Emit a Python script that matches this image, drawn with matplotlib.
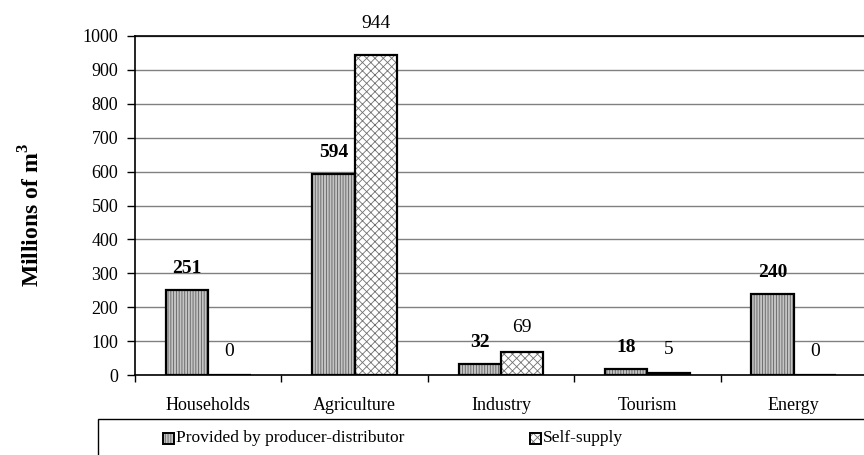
import matplotlib
matplotlib.use("Agg")
import matplotlib.pyplot as plt
from matplotlib.patches import Rectangle
import numpy as np

categories = ["Households", "Agriculture", "Industry", "Tourism", "Energy"]
provided = [251, 594, 32, 18, 240]
self_supply = [0, 944, 69, 5, 0]
series_names = ["Provided by producer-distributor", "Self-supply"]
yticks = [0, 100, 200, 300, 400, 500, 600, 700, 800, 900, 1000]

plt.rcParams['font.family'] = ['Liberation Serif', 'DejaVu Serif']
plt.rcParams['mathtext.fontset'] = 'custom'
plt.rcParams['mathtext.rm'] = 'Liberation Serif'
plt.rcParams['mathtext.bf'] = 'Liberation Serif:bold'
plt.rcParams['hatch.linewidth'] = 0.6

W, H = 864, 455
fig = plt.figure(figsize=(W / 100, H / 100), dpi=100)
left, right, top, bottom = 135, 867, 36, 375
ax = fig.add_axes([left / W, 1 - bottom / H, (right - left) / W, (bottom - top) / H])

x = np.arange(len(categories))
bw = 0.29
c1 = '#c4c4c4'
c2 = 'white'
h1, hc1 = '||||||', '#606060'
h2, hc2 = 'xxxx', '#707070'

def draw(xs, vals, face, hatch, hcol):
    ax.bar(xs, vals, bw, color=face, hatch=hatch, edgecolor=hcol, linewidth=0, zorder=3)
    ax.bar(xs, vals, bw, fill=False, edgecolor='black', linewidth=1.6, zorder=4)

draw(x - bw / 2, provided, c1, h1, hc1)
draw(x + bw / 2, self_supply, c2, h2, hc2)

for xi, v in zip(x - bw / 2, provided):
    ax.annotate(str(v), (xi, v), xytext=(0, 15.5), textcoords='offset points',
                ha='center', va='center', fontsize=14, fontweight='bold')
for xi, v in zip(x + bw / 2, self_supply):
    off = 23 if v > 900 else 17
    ax.annotate(str(v), (xi, v), xytext=(0, off), textcoords='offset points',
                ha='center', va='center', fontsize=14, annotation_clip=False)

ax.set_xlim(-0.5, len(categories) - 0.5)
ax.set_ylim(0, 1000)
ax.set_yticks(yticks)
ax.set_yticklabels([str(t) for t in yticks], fontsize=13)
ax.yaxis.grid(True, color='#808080', linewidth=1.0, zorder=0)
ax.set_axisbelow(True)
ax.set_xticks(x)
ax.set_xticklabels(categories, fontsize=13)
ax.tick_params(axis='x', length=0, pad=16)
ax.set_xticks(np.arange(len(categories) + 1) - 0.5, minor=True)
ax.tick_params(axis='x', which='minor', length=5, width=1, direction='out')
ax.tick_params(axis='y', length=6, width=1, direction='out', pad=6)
for s in ['left', 'bottom', 'top']:
    ax.spines[s].set_linewidth(1.2)
    ax.spines[s].set_color('black')
ax.spines['right'].set_visible(False)

fig.text(32 / W, 1 - 215 / H, 'Millions of m$^\\mathbf{3}$', rotation=90, ha='center', va='center',
         fontsize=17, fontweight='bold')

# legend box
fig.patches.append(Rectangle((98 / W, -0.05), 1.0, 1 - 419 / H + 0.05, transform=fig.transFigure,
                             fill=False, edgecolor='black', linewidth=1.0))
ly = 1 - 438 / H
hs = 11
for hx, tx, name, face, hatch, hcol in [(163, 176, series_names[0], c1, h1, hc1),
                                         (530, 543, series_names[1], c2, h2, hc2)]:
    fig.patches.append(Rectangle((hx / W, ly - hs / 2 / H), hs / W, hs / H, transform=fig.transFigure,
                                 facecolor=face, hatch=hatch, edgecolor=hcol, linewidth=0))
    fig.patches.append(Rectangle((hx / W, ly - hs / 2 / H), hs / W, hs / H, transform=fig.transFigure,
                                 fill=False, edgecolor='black', linewidth=1.4))
    fig.text(tx / W, ly, name, ha='left', va='center', fontsize=12.5)

fig.savefig('out.png', dpi=100)
